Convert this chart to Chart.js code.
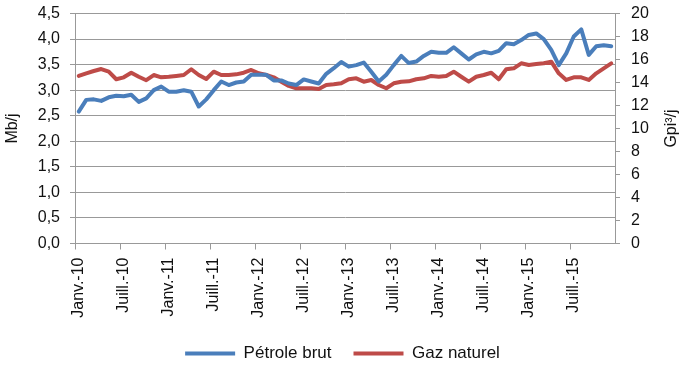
<!DOCTYPE html>
<html>
<head>
<meta charset="utf-8">
<script src="https://cdn.jsdelivr.net/npm/chart.js@4"></script>
<style>
  html, body { margin: 0; padding: 0; background: #fff; overflow: hidden; }
  canvas { display: block; }
</style>
</head>
<body>
<canvas id="prodChart" width="685" height="365"></canvas>
<script>
// Months, Jan 2010 -> Dec 2015
const annees = ['10', '11', '12', '13', '14', '15'];
const moisAbr = ['Janv.', 'Févr.', 'Mars', 'Avr.', 'Mai', 'Juin', 'Juill.', 'Août', 'Sept.', 'Oct.', 'Nov.', 'Déc.'];
const mois = [];
annees.forEach(a => moisAbr.forEach(m => mois.push(m + '-' + a)));

// Only these month labels are shown on the x axis
const ticksMois = ['Janv.-10', 'Juill.-10', 'Janv.-11', 'Juill.-11', 'Janv.-12', 'Juill.-12',
                   'Janv.-13', 'Juill.-13', 'Janv.-14', 'Juill.-14', 'Janv.-15', 'Juill.-15'];

// Crude oil, Mb/j (left axis)
const petroleBrut = [
    2.58, 2.81, 2.82, 2.79, 2.86, 2.89, 2.88, 2.91, 2.77, 2.84, 3.00, 3.07,
    2.97, 2.97, 3.00, 2.97, 2.68, 2.82, 3.00, 3.17, 3.10, 3.15, 3.17, 3.30,
    3.30, 3.30, 3.19, 3.19, 3.13, 3.10, 3.21, 3.17, 3.13, 3.32, 3.43, 3.55,
    3.46, 3.49, 3.54, 3.36, 3.17, 3.30, 3.49, 3.67, 3.53, 3.56, 3.67, 3.75,
    3.73, 3.73, 3.84, 3.72, 3.60, 3.70, 3.75, 3.72, 3.77, 3.92, 3.90, 3.98,
    4.08, 4.11, 4.00, 3.79, 3.49, 3.72, 4.05, 4.19, 3.69, 3.86, 3.88, 3.86
];

// Natural gas, Gpi3/j (right axis)
const gazNaturel = [
    14.57, 14.80, 15.00, 15.17, 14.94, 14.28, 14.45, 14.85, 14.50, 14.20, 14.65, 14.45,
    14.50, 14.57, 14.65, 15.15, 14.65, 14.30, 14.94, 14.65, 14.65, 14.71, 14.85, 15.09,
    14.80, 14.65, 14.45, 14.07, 13.70, 13.50, 13.50, 13.50, 13.43, 13.78, 13.84, 13.93,
    14.28, 14.36, 14.07, 14.22, 13.78, 13.50, 13.93, 14.07, 14.10, 14.28, 14.36, 14.57,
    14.50, 14.57, 14.94, 14.50, 14.07, 14.50, 14.65, 14.85, 14.28, 15.15, 15.23, 15.67,
    15.52, 15.60, 15.67, 15.81, 14.80, 14.22, 14.45, 14.45, 14.22, 14.80, 15.23, 15.67
];

const police = 'Liberation Sans, Arial, sans-serif';
const gris = '#999999';
const texte = '#111111';

// rotated axis titles, both reading bottom to top
const titresAxes = {
    id: 'titresAxes',
    afterDraw(chart) {
        const c = chart.ctx;
        const mid = (chart.chartArea.top + chart.chartArea.bottom) / 2;
        c.save();
        c.font = '16px ' + police;
        c.fillStyle = texte;
        c.textAlign = 'center';
        c.textBaseline = 'middle';
        [['Mb/j', 13], ['Gpi³/j', 672]].forEach(([t, x]) => {
            c.save();
            c.translate(x, mid);
            c.rotate(-Math.PI / 2);
            c.fillText(t, 0, 0);
            c.restore();
        });
        c.restore();
    }
};

// fixed axis sizes so the plot area sits where the reference has it
const fixeY = w => s => {
    s.width = w;
    s.paddingTop = 9.6;
    s.paddingBottom = 9.6;
};

const ctx = document.getElementById('prodChart').getContext('2d');
new Chart(ctx, {
    type: 'line',
    data: {
        labels: mois,
        datasets: [
            {
                label: 'Pétrole brut',
                data: petroleBrut,
                yAxisID: 'y',
                borderColor: '#4A7EBB',
                backgroundColor: '#4A7EBB',
                borderWidth: 4,
                borderCapStyle: 'round',
                borderJoinStyle: 'round',
                tension: 0,
                pointRadius: 0
            },
            {
                label: 'Gaz naturel',
                data: gazNaturel,
                yAxisID: 'y2',
                borderColor: '#BE4B48',
                backgroundColor: '#BE4B48',
                borderWidth: 4,
                borderCapStyle: 'round',
                borderJoinStyle: 'round',
                tension: 0,
                pointRadius: 0
            }
        ]
    },
    options: {
        responsive: false,
        animation: false,
        devicePixelRatio: 1,
        layout: { padding: { top: 13.5, bottom: -7, left: 0, right: 0 } },
        scales: {
            x: {
                offset: true,
                grid: {
                    offset: true,
                    drawOnChartArea: false,
                    tickLength: 6,
                    tickColor: c => (c.index % 6 === 0 ? gris : 'rgba(0,0,0,0)')
                },
                border: { display: true, color: gris },
                ticks: {
                    autoSkip: false,
                    minRotation: 90,
                    maxRotation: 90,
                    padding: 8,
                    color: texte,
                    font: { family: police, size: 16 },
                    callback: (v, i) => (ticksMois.includes(mois[i]) ? mois[i] : '')
                },
                afterFit: s => { s.height = 79.5; }
            },
            y: {
                position: 'left',
                min: 0,
                max: 4.5,
                grid: { color: gris, tickLength: 5 },
                border: { display: true, color: gris },
                ticks: {
                    stepSize: 0.5,
                    padding: 10,
                    color: texte,
                    font: { family: police, size: 16 },
                    callback: v => v.toFixed(1).replace('.', ',')
                },
                afterFit: fixeY(75)
            },
            y2: {
                position: 'right',
                min: 0,
                max: 20,
                grid: { drawOnChartArea: false, color: gris, tickLength: 5 },
                border: { display: true, color: gris },
                ticks: {
                    stepSize: 2,
                    padding: 11,
                    color: texte,
                    font: { family: police, size: 16 }
                },
                afterFit: fixeY(70)
            }
        },
        plugins: {
            legend: {
                position: 'bottom',
                labels: {
                    usePointStyle: true,
                    pointStyle: 'line',
                    pointStyleWidth: 50,
                    padding: 22,
                    color: texte,
                    font: { family: police, size: 17 }
                }
            },
            tooltip: { enabled: false }
        }
    },
    plugins: [titresAxes]
});
</script>
</body>
</html>
